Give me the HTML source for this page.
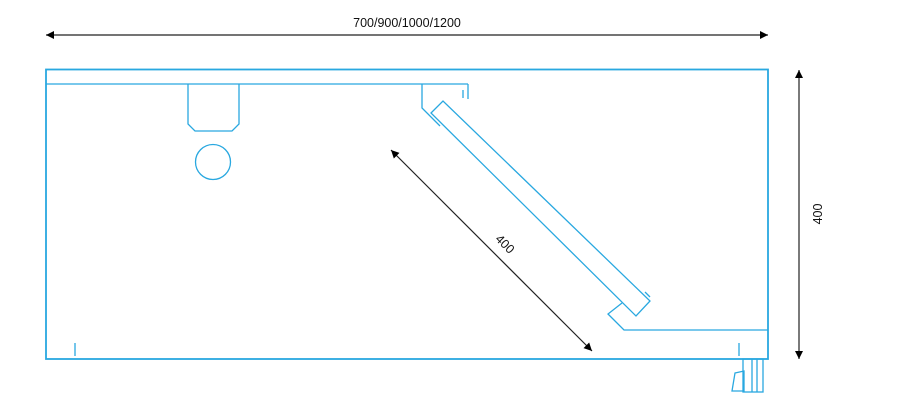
<!DOCTYPE html>
<html><head><style>html,body{margin:0;padding:0;background:#fff;width:904px;height:418px;overflow:hidden}</style></head>
<body>
<svg width="904" height="418" viewBox="0 0 904 418" xmlns="http://www.w3.org/2000/svg">
<defs>
<marker id="a" viewBox="0 0 10 10" refX="10" refY="5" markerWidth="11" markerHeight="8" orient="auto-start-reverse" markerUnits="userSpaceOnUse"><path d="M0,0 L10,5 L0,10 z" fill="#000"/></marker>
</defs>
<g fill="none" stroke="#29a8e0" stroke-width="1.3">
<rect x="46" y="69.5" width="722" height="289.5" stroke-width="1.8"/>
<line x1="46" y1="84" x2="468" y2="84"/>
<polyline points="468,84 468,99"/>
<line x1="463" y1="90" x2="463" y2="98"/>
<polyline points="188,84 188,124 195,131 232,131 239,124 239,84"/>
<circle cx="213" cy="162" r="17.5"/>
<polyline points="422,84 422,108 440,126"/>
<polygon points="431,113 443,101 650,301 636,316"/>
<polyline points="645,292 650,297"/>
<polyline points="622,303 608,314 624,330 768,330"/>
<line x1="75" y1="343" x2="75" y2="356"/>
<line x1="739" y1="343" x2="739" y2="356"/>
<rect x="743" y="359" width="20" height="33"/>
<line x1="752" y1="359" x2="752" y2="392"/>
<line x1="757" y1="359" x2="757" y2="392"/>
<polygon points="735,373 744,371 744,391 732,391"/>
</g>
<g stroke="#222" stroke-width="1.2">
<line x1="46" y1="35" x2="768" y2="35" marker-start="url(#a)" marker-end="url(#a)"/>
<line x1="799" y1="70" x2="799" y2="359" marker-start="url(#a)" marker-end="url(#a)"/>
<line x1="391" y1="150" x2="592" y2="351" marker-start="url(#a)" marker-end="url(#a)"/>
</g>
<g font-family="Liberation Sans, sans-serif" font-size="12.5" fill="#111">
<text x="407" y="27" text-anchor="middle">700/900/1000/1200</text>
<text x="0" y="0" text-anchor="middle" transform="translate(822,214) rotate(-90)">400</text>
<text x="0" y="0" text-anchor="middle" transform="translate(502,247) rotate(45)">400</text>
</g>
</svg>
</body></html>
